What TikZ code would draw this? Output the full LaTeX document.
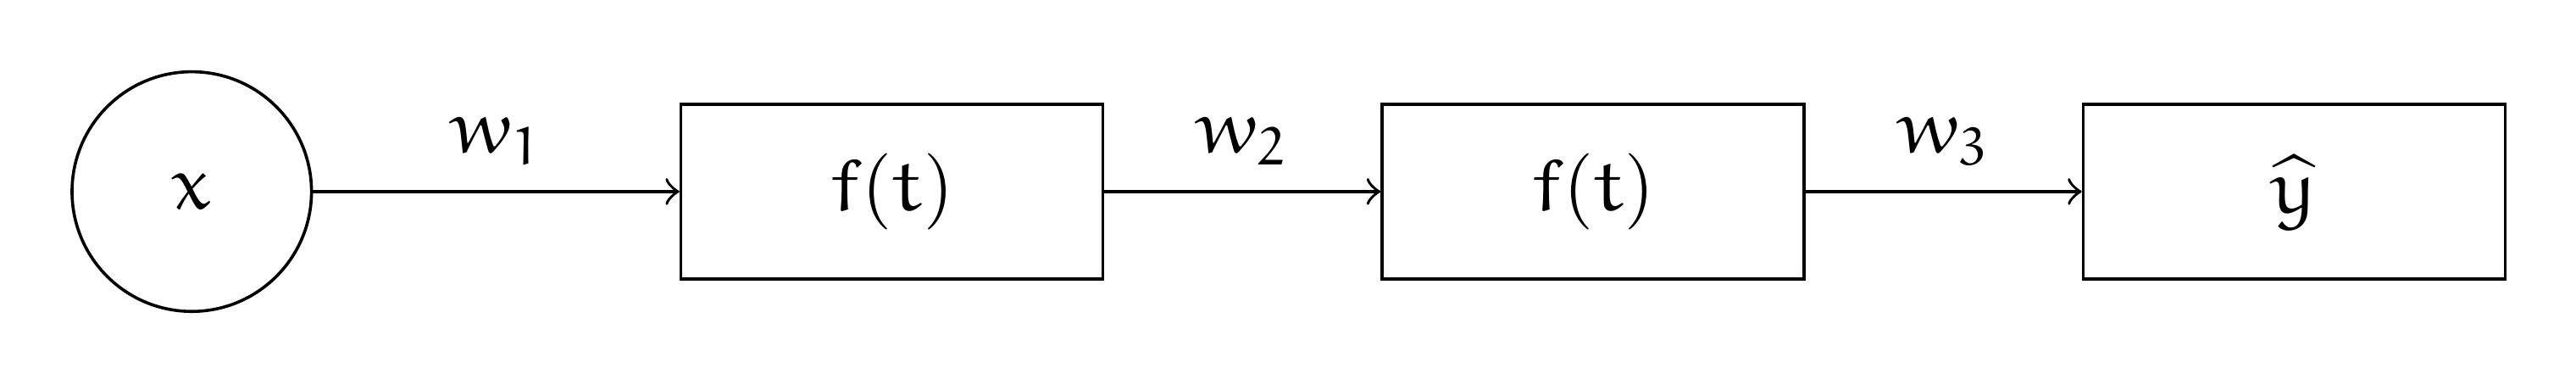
\documentclass[tikz,border=0pt]{standalone}
\usepackage{amsmath}
\DeclareFontFamily{U}{eurm}{\skewchar\font'177}
\DeclareFontShape{U}{eurm}{m}{n}{<-> eurm10}{}
\DeclareSymbolFont{letters}{U}{eurm}{m}{n}
\DeclareMathSymbol{1}{\mathalpha}{letters}{"31}
\DeclareMathSymbol{2}{\mathalpha}{letters}{"32}
\DeclareMathSymbol{3}{\mathalpha}{letters}{"33}
\usetikzlibrary{positioning}

\begin{document}
\begin{tikzpicture}[
    neuron/.style={draw,circle,minimum size=1.104cm,inner sep=0pt},
    layer/.style={draw,rectangle,minimum width=1.945cm,minimum height=0.805cm}]
      \useasboundingbox (0,0) rectangle (11.875,1.7695);
      \node[neuron] (1) at (0.884,0.887) {$x$};
      \node[layer,right=1.689cm of 1] (2) {$f(t)$};
      \node[layer,right=1.273cm of 2] (3) {$f(t)$};
      \node[layer,right=1.273cm of 3] (4) {$\widehat{y}$};

      \draw[->] (1) -- node[above] {$w_1$} (2);
      \draw[->] (2) -- node[above] {$w_2$} (3);
      \draw[->] (3) -- node[above] {$w_3$} (4);
    \end{tikzpicture}
\end{document}
